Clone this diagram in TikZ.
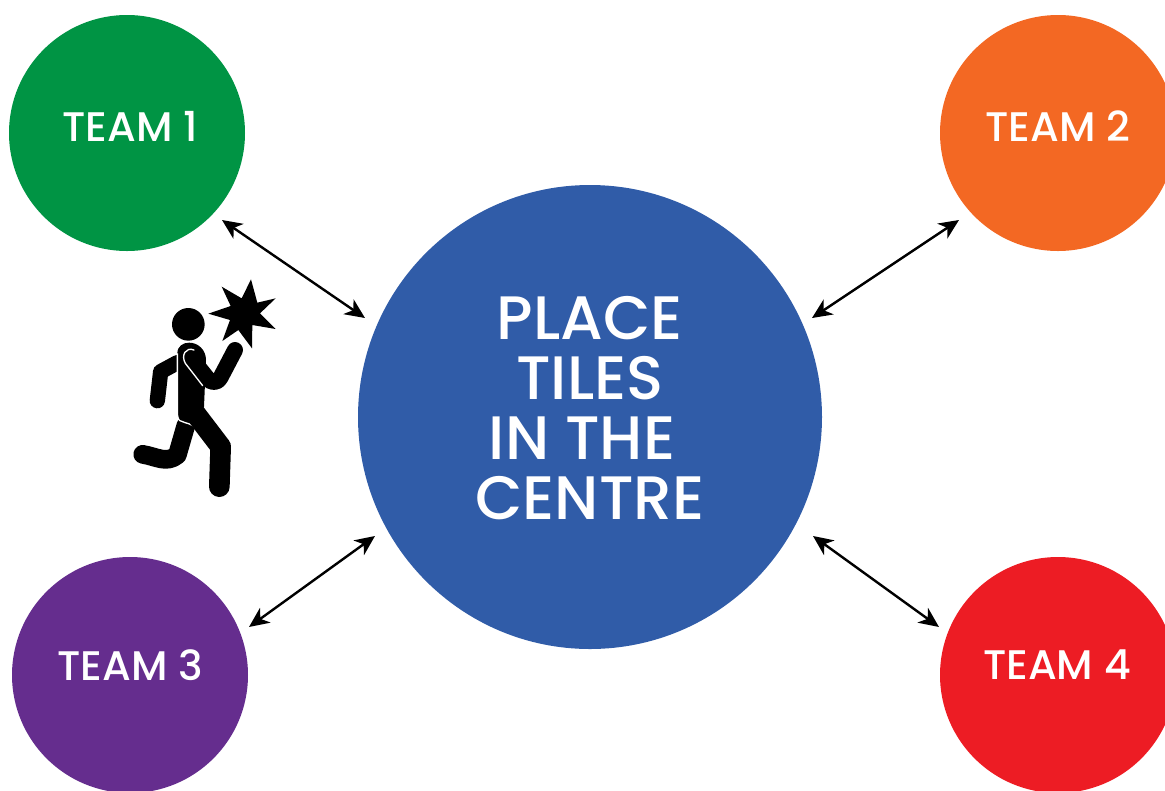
\documentclass[tikz,border=0pt]{standalone}
\usepackage{fontspec}
\setmainfont{Poppins}[UprightFont=* Medium]
\usetikzlibrary{arrows.meta}
\definecolor{tgreen}{HTML}{009444}
\definecolor{torange}{HTML}{F36823}
\definecolor{tpurple}{HTML}{652D8E}
\definecolor{tred}{HTML}{ED1C24}
\definecolor{tblue}{HTML}{305CA8}
\tikzset{
  team/.style={circle,minimum size=177pt,inner sep=0pt},
  teamtext/.style={text=white,inner sep=0pt,font=\fontsize{31}{36}\selectfont},
  hub/.style={circle,minimum size=348pt,inner sep=0pt,fill=tblue},
  hubtext/.style={text=white,inner sep=0pt,align=center,font=\fontsize{46}{45}\selectfont},
  link/.style={line width=1.8pt,{Stealth[length=15pt,width=13.5pt,inset=4.5pt]}-{Stealth[length=15pt,width=13.5pt,inset=4.5pt]}},
  limb/.style={line cap=round,line join=round,draw=black},
}
\begin{document}
\begin{tikzpicture}[x=0.75pt,y=-0.75pt]
\useasboundingbox (0,0) rectangle (1165,790);
\clip (0,0) rectangle (1165,790);
\node[hub] (hub) at (590,417) {};
\node[hubtext] (hubt) at (590,408) {PLACE\\TILES\\IN THE\hspace*{12pt}\mbox{}\\CENTRE};
\node[team,fill=tgreen] (t1) at (127,133) {};
\node[team,fill=torange] (t2) at (1058,133) {};
\node[team,fill=tpurple] (t3) at (130,675) {};
\node[team,fill=tred] (t4) at (1058,675) {};
\node[teamtext] (t1t) at (130,126) {TEAM 1};
\node[teamtext] (t2t) at (1058,126) {TEAM 2};
\node[teamtext] (t3t) at (130,665) {TEAM 3};
\node[teamtext] (t4t) at (1057,665) {TEAM 4};
\coordinate (a1) at (222,220); \coordinate (b1) at (365,318);
\coordinate (a2) at (959,220); \coordinate (b2) at (812,318);
\coordinate (a3) at (249,627); \coordinate (b3) at (375,536);
\coordinate (a4) at (939,627); \coordinate (b4) at (813,536);
\draw[link] (a1) -- (b1);
\draw[link] (a2) -- (b2);
\draw[link] (a3) -- (b3);
\draw[link] (a4) -- (b4);
% running figure (coordinates in thirds of a pixel)
\begin{scope}[shift={(120,270)},x=0.25pt,y=-0.25pt]
  \fill (205,163) circle (49);
  \fill (393,28) -- (412,98) -- (467,85) -- (420,130) -- (467,177) -- (397,165) -- (396,235)
        -- (355,180) -- (307,213) -- (330,150) -- (265,131) -- (332,108) -- (305,50) -- (365,85) -- cycle;
  % back arm
  \draw[limb,line width=11.5pt] (172,278) -- (122,305) -- (112,392);
  % back leg
  \draw[limb,line width=14pt] (198,465) -- (172,555) .. controls (140,582) and (110,560) .. (68,553);
  % torso
  \fill (172,250) .. controls (172,228) and (190,218) .. (207,218)
        .. controls (235,218) and (258,240) .. (258,270) -- (252,410) -- (220,475) -- (178,450)
        .. controls (172,440) and (172,430) .. (172,420) -- cycle;
  \draw[white,line width=1pt] (172,250) -- (172,425) .. controls (172,440) and (175,450) .. (180,452)
        .. controls (200,462) and (215,458) .. (232,480);
  % front leg
  \draw[limb,line width=15.5pt] (222,425) -- (302,530) -- (298,650);
  % front arm
  \draw[limb,line width=12pt] (208,257) -- (268,332) .. controls (285,340) and (295,335) .. (302,322) -- (345,240);
  \draw[white,line width=1pt,line cap=round] (248,347) -- (196,280)
        .. controls (182,255) and (198,230) .. (222,240);
\end{scope}
\end{tikzpicture}
\end{document}
